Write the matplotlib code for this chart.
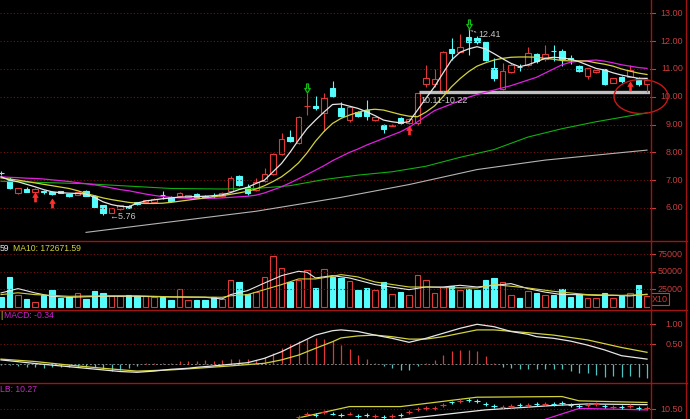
import matplotlib.pyplot as plt
from matplotlib.path import Path
from matplotlib.patches import Ellipse
from matplotlib.lines import Line2D

plt.rcParams['font.family'] = ['Liberation Sans', 'DejaVu Sans']

W, H = 690, 419
RED = '#e03838'
FRAME = '#a01414'
GRID = '#7a1212'
LBL = '#c83c3c'
CYAN = '#54fcfc'
HCYAN = '#4cc4c4'

# daily candles (price)
opens = [7.27, 7.03, 6.52, 6.67, 6.58, 6.62, 6.58, 6.60, 6.49, 6.48,
         6.61, 6.43, 6.10, 5.83, 5.96, 6.08, 6.20, 6.20, 6.22, 6.48,
         6.40, 6.43, 6.40, 6.50, 6.42, 6.44, 6.42, 6.61, 7.16, 6.76,
         6.64, 6.98, 7.22, 7.94, 8.56, 8.32, 9.65, 9.67, 9.40, 10.30,
         9.58, 9.16, 9.44, 9.52, 9.16, 8.98, 8.95, 9.25, 9.05, 9.04,
         10.46, 10.46, 10.22, 11.71, 11.62, 12.16, 12.12, 11.96, 11.02, 10.28,
         10.90, 11.08, 11.14, 11.54, 11.37, 11.66, 11.65, 11.39, 11.10, 10.74,
         10.89, 10.98, 10.50, 10.72, 10.72, 10.66, 10.46]
closes = [7.24, 6.70, 6.70, 6.58, 6.67, 6.56, 6.50, 6.53, 6.43, 6.56,
          6.44, 6.04, 5.83, 5.98, 6.10, 6.01, 6.13, 6.28, 6.32, 6.46,
          6.26, 6.55, 6.45, 6.40, 6.41, 6.43, 6.55, 7.06, 6.82, 6.55,
          6.94, 7.21, 7.94, 8.47, 8.42, 9.28, 9.68, 9.58, 9.96, 10.02,
          9.31, 9.62, 9.31, 9.31, 9.26, 8.83, 9.00, 9.04, 9.20, 10.12,
          10.66, 10.62, 11.62, 11.58, 11.78, 11.98, 11.96, 11.32, 10.66, 10.94,
          11.14, 11.06, 11.56, 11.30, 11.54, 11.64, 11.35, 11.37, 10.94, 11.02,
          10.95, 10.46, 10.66, 10.58, 10.96, 10.46, 10.60]
highs = [7.32, 7.12, 6.72, 6.75, 6.70, 6.64, 6.62, 6.62, 6.51, 6.58,
         6.63, 6.45, 6.12, 6.00, 6.12, 6.10, 6.22, 6.30, 6.34, 6.62,
         6.42, 6.58, 6.48, 6.52, 6.48, 6.52, 6.57, 7.16, 7.18, 6.86,
         7.06, 7.45, 7.96, 8.70, 8.82, 9.30, 10.12, 10.02, 10.12, 10.55,
         9.80, 9.66, 9.50, 9.88, 9.28, 9.02, 9.02, 9.27, 9.22, 10.14,
         11.14, 11.00, 11.64, 12.10, 12.26, 12.41, 12.20, 11.98, 11.40, 11.20,
         11.20, 11.16, 11.78, 11.56, 11.87, 11.87, 11.72, 11.50, 11.14, 11.04,
         10.97, 11.00, 10.68, 10.74, 11.14, 10.70, 10.66]
lows = [7.18, 6.68, 6.50, 6.56, 6.55, 6.50, 6.48, 6.52, 6.41, 6.46,
        6.42, 6.02, 5.76, 5.80, 5.94, 6.00, 6.11, 6.18, 6.20, 6.32,
        6.22, 6.41, 6.38, 6.36, 6.36, 6.36, 6.40, 6.58, 6.79, 6.48,
        6.60, 6.95, 7.20, 7.92, 8.36, 8.30, 9.34, 9.52, 8.78, 10.00,
        9.28, 9.10, 9.28, 9.16, 9.14, 8.70, 8.93, 9.02, 9.03, 8.98,
        10.36, 10.36, 10.18, 11.32, 11.60, 11.50, 11.90, 11.28, 10.55, 10.24,
        10.85, 10.92, 11.10, 11.20, 11.30, 11.30, 11.12, 11.16, 10.90, 10.62,
        10.87, 10.44, 10.48, 10.50, 10.70, 10.40, 10.18]

ma5 = [7.12, 7.00, 6.94, 6.85, 6.76, 6.66, 6.58, 6.55, 6.53, 6.52,
       6.50, 6.38, 6.22, 6.12, 6.06, 6.04, 6.17, 6.25, 6.29, 6.33,
       6.36, 6.39, 6.40, 6.41, 6.42, 6.44, 6.47, 6.55, 6.66, 6.74,
       6.88, 7.00, 7.30, 7.60, 8.00, 8.44, 8.85, 9.16, 9.45, 9.72,
       9.74, 9.66, 9.58, 9.46, 9.32, 9.16, 9.10, 9.06, 9.10, 9.52,
       9.95, 10.36, 10.85, 11.32, 11.60, 11.72, 11.80, 11.72, 11.55, 11.37,
       11.20, 11.08, 11.15, 11.26, 11.38, 11.42, 11.40, 11.35, 11.26, 11.14,
       11.02, 10.96, 10.86, 10.78, 10.72, 10.66, 10.66]
ma10 = [7.08, 7.04, 7.00, 6.95, 6.90, 6.85, 6.80, 6.75, 6.70, 6.62,
        6.52, 6.44, 6.36, 6.30, 6.25, 6.20, 6.17, 6.16, 6.16, 6.17,
        6.20, 6.24, 6.28, 6.32, 6.36, 6.40, 6.44, 6.49, 6.54, 6.60,
        6.68, 6.80, 6.95, 7.12, 7.35, 7.62, 7.98, 8.40, 8.75, 9.04,
        9.22, 9.34, 9.44, 9.52, 9.55, 9.52, 9.44, 9.36, 9.30, 9.28,
        9.45, 9.67, 10.00, 10.36, 10.65, 10.90, 11.10, 11.22, 11.32, 11.38,
        11.42, 11.43, 11.43, 11.42, 11.38, 11.35, 11.30, 11.29, 11.29, 11.28,
        11.22, 11.17, 11.10, 11.00, 10.92, 10.85, 10.80]
ma20 = [7.12, 7.10, 7.09, 7.07, 7.06, 7.04, 7.01, 6.98, 6.95, 6.91,
        6.87, 6.83, 6.78, 6.72, 6.66, 6.62, 6.56, 6.50, 6.45, 6.41,
        6.38, 6.36, 6.35, 6.34, 6.34, 6.35, 6.36, 6.38, 6.40, 6.42,
        6.46, 6.54, 6.65, 6.76, 6.90, 7.05, 7.20, 7.36, 7.52, 7.70,
        7.85, 8.00, 8.12, 8.26, 8.38, 8.50, 8.62, 8.74, 8.90, 9.10,
        9.30, 9.50, 9.62, 9.74, 9.86, 9.98, 10.08, 10.16, 10.24, 10.32,
        10.40, 10.50, 10.60, 10.70, 10.85, 11.00, 11.15, 11.24, 11.28, 11.30,
        11.32, 11.28, 11.22, 11.15, 11.10, 11.05, 11.02]
ma60_idx = [0, 10, 20, 26, 30, 34, 38, 42, 46, 50, 54, 58, 62, 66, 70, 76]
ma60 = [6.96, 6.87, 6.70, 6.68, 6.70, 6.80, 7.02, 7.18, 7.30, 7.50, 7.82, 8.10, 8.55, 8.85, 9.10, 9.42]
ma120_idx = [10, 20, 30, 40, 48, 56, 64, 72, 76]
ma120 = [5.12, 5.50, 5.88, 6.38, 6.84, 7.38, 7.72, 7.96, 8.08]

# volume (axis units, x10)
vol = [13600, 42100, 17400, 11200, 6400, 17400, 23600, 12600, 13600, 19800,
       11200, 22100, 19800, 16000, 16000, 16700, 16000, 15000, 13600, 14000,
       9300, 25500, 9300, 10000, 10000, 13600, 11200, 38800, 35000, 18300,
       21000, 42600, 72100, 55500, 35000, 38800, 52100, 26900, 54500, 42600,
       41200, 36400, 24500, 27400, 23600, 35500, 18800, 21200, 17400, 46000,
       38800, 20200, 28300, 29300, 23600, 26000, 24500, 37900, 41200, 35500,
       17400, 13100, 22000, 19800, 16400, 17400, 25000, 14000, 18800, 13100,
       13100, 19800, 13100, 15500, 20200, 30700, 15500]
vma5_idx = [0, 2, 4, 6, 8, 12, 16, 20, 24, 26, 27, 29, 31, 33, 35, 36, 37, 39,
            41, 44, 46, 48, 50, 52, 54, 56, 58, 60, 62, 64, 66, 68, 70, 72, 74, 76]
vma5 = [19800, 26000, 19800, 15000, 13600, 15000, 15000, 14000, 13600, 11200,
        17400, 23100, 34000, 44500, 50700, 49300, 41200, 44500, 41200, 31700,
        28100, 24500, 28300, 28300, 30700, 28300, 30700, 33100, 26000, 21000,
        17400, 17400, 16400, 16400, 15500, 18000]
vma10_idx = [0, 2, 4, 8, 12, 16, 20, 23, 26, 27, 29, 31, 33, 35, 37, 39, 40, 42,
             44, 48, 50, 52, 56, 58, 62, 65, 69, 73, 76]
vma10 = [17400, 20000, 17400, 15000, 15700, 15700, 14300, 14000, 13600, 15700,
         17400, 24500, 31700, 39800, 39800, 43600, 46000, 42600, 35500, 28300,
         28300, 27400, 26900, 31700, 26900, 22100, 17400, 16400, 17400]

# MACD
dif_idx = [0, 4, 8, 10, 12, 14, 16, 18, 20, 22, 23, 25, 27, 29, 31, 33, 35, 37, 39, 40,
           42, 44, 46, 48, 50, 52, 54, 56, 58, 60, 62, 63, 65, 67, 69, 71, 73, 76]
dif = [0.11, 0.02, -0.06, -0.10, -0.14, -0.18, -0.20, -0.17, -0.125, -0.10,
       -0.075, -0.04, 0.0, 0.04, 0.15, 0.315, 0.525, 0.73, 0.84, 0.86,
       0.82, 0.73, 0.65, 0.55, 0.65, 0.775, 0.90, 1.0, 0.94, 0.82,
       0.75, 0.69, 0.65, 0.58, 0.48, 0.36, 0.215, 0.13]
dea_idx = [0, 4, 8, 12, 16, 20, 23, 27, 31, 33, 35, 37, 39, 40, 42, 44, 46, 48, 50, 52,
           54, 56, 58, 62, 65, 69, 73, 76]
dea = [0.13, 0.07, -0.02, -0.10, -0.17, -0.14, -0.10, -0.04, 0.025, 0.11,
       0.23, 0.40, 0.565, 0.66, 0.71, 0.73, 0.69, 0.63, 0.63, 0.69,
       0.775, 0.86, 0.86, 0.79, 0.73, 0.61, 0.42, 0.30]
macd_hist = [-0.02, -0.03, -0.04, -0.06, -0.08, -0.09, -0.08, -0.08, -0.07, -0.06,
             -0.06, -0.07, -0.12, -0.16, -0.14, -0.10, -0.05, 0.02, 0.02, 0.03,
             0.03, 0.07, 0.08, 0.09, 0.11, 0.09, 0.11, 0.13, 0.13, 0.13,
             0.10, 0.17, 0.275, 0.40, 0.50, 0.58, 0.63, 0.65, 0.63, 0.58,
             0.47, 0.38, 0.23, 0.14, 0.04, -0.04, -0.10, -0.15, -0.15, -0.05,
             0.02, 0.10, 0.23, 0.32, 0.36, 0.36, 0.32, 0.21, 0.03, -0.06,
             -0.10, -0.12, -0.12, -0.11, -0.13, -0.12, -0.13, -0.18, -0.22, -0.23,
             -0.27, -0.32, -0.30, -0.32, -0.30, -0.32, -0.34]

# lower indicator panel
bot_upper_idx = [35, 41, 47, 56, 66, 68, 76]
bot_upper = [9.17, 10.88, 10.88, 12.30, 12.40, 11.75, 11.50]
bot_mid_idx = [47, 57, 65, 69, 76]
bot_mid = [8.95, 10.38, 11.05, 11.28, 11.17]
bot_low_idx = [64, 68, 76]
bot_low = [8.95, 10.60, 10.38]
mark_start = 35
bot_marks = [9.33, 9.83, 9.67, 10.0, 9.83, 9.67, 9.83, 9.5, 9.67, 9.5,
             9.33, 9.5, 9.67, 10.0, 10.5, 10.67, 10.67, 11.17, 11.5, 11.67,
             11.83, 11.67, 11.33, 11.0, 10.83, 11.0, 11.17, 11.17, 11.33, 11.33,
             11.33, 11.42, 11.17, 11.0, 11.17, 11.33, 11.0, 10.83, 10.83, 11.0,
             10.67, 10.67]

price_ticks = [13, 12, 11, 10, 9, 8, 7, 6]
vol_ticks = [75000, 50000, 25000]
macd_ticks = [1.0, 0.5]
bot_ticks = [10.5]

up_arrow_idx = [4, 6, 48, 74]
up_arrow_price = [6.38, 6.17, 8.80, 10.40]
down_arrow_idx = [36, 55]
down_arrow_price = [10.32, 12.60]
low_idx, low_val = 12, 5.76
high_idx, high_val = 55, 12.41
zone_idx, zone_lo, zone_hi = 49.2, 10.11, 10.22

n = len(opens)
xs = list(range(n))
rising = [c >= o for o, c in zip(opens, closes)]

fig = plt.figure(figsize=(W / 100, H / 100), dpi=100, facecolor='black')


def panel(top, bot, ylim):
    ax = fig.add_axes([0, 1 - bot / H, 650 / W, (bot - top) / H])
    ax.set_facecolor('black')
    for s in ax.spines.values():
        s.set_visible(False)
    ax.set_xticks([])
    ax.set_yticks([])
    ax.set_xlim(-0.12, 76.35)
    ax.set_ylim(*ylim)
    return ax


def right_labels(ax, ticks, fmt):
    tr = ax.get_yaxis_transform()
    for v in ticks:
        ax.axhline(v, color=GRID, lw=0.8, ls=(0, (1, 2)))
        ax.plot([1.0, 1.007], [v, v], color=LBL, lw=0.8, transform=tr, clip_on=False)
        ax.text(683 / 650, v, fmt(v), transform=tr, ha='right', va='center',
                color=LBL, fontsize=6.5)


ax1 = panel(0, 241, (4.81, 13.48))
ax2 = panel(241, 310, (-4571, 94000))
ax3 = panel(310, 383, (-0.4675, 1.3575))
ax4 = panel(383, 419, (9.0, 14.45))

# ---- price panel
right_labels(ax1, price_ticks, lambda v: f'{v:.2f}')
ax1.plot(ma120_idx, ma120, color='#b4b4b4', lw=0.8)
ax1.plot(ma60_idx, ma60, color='#10b010', lw=0.8)
ax1.hlines((zone_lo + zone_hi) / 2, zone_idx, 76.35, color='#c0c0c0', lw=2.4)
ax1.text(zone_idx + 0.1, 9.87, f'{zone_lo:.2f}-{zone_hi:.2f}', color='#c8c8c8',
         fontsize=6.5, va='center', ha='left')

for i in xs:
    col = RED if rising[i] else CYAN
    lo, hi = min(opens[i], closes[i]), max(opens[i], closes[i])
    ax1.vlines(i, hi, highs[i], color=col, lw=0.8)
    ax1.vlines(i, lows[i], lo, color=col, lw=0.8)
body = [max(abs(c - o), 0.012) for o, c in zip(opens, closes)]
bottoms = [min(o, c) for o, c in zip(opens, closes)]
ax1.bar(xs, body, bottom=bottoms, width=0.68,
        color=['black' if r else CYAN for r in rising],
        edgecolor=[RED if r else CYAN for r in rising], linewidth=0.8)

ax1.plot(xs, ma20, color='#e020e0', lw=0.9)
ax1.plot(xs, ma10, color='#d2d23c', lw=0.9)
ax1.plot(xs, ma5, color='#e6e6e6', lw=0.9)

up_v = [(-0.22, -1), (0.22, -1), (0.22, 0), (0.6, 0), (0, 1), (-0.6, 0), (-0.22, 0), (-0.22, -1)]
up_path = Path(up_v, [Path.MOVETO] + [Path.LINETO] * 6 + [Path.CLOSEPOLY])
dn_path = Path([(a, -b) for a, b in up_v], [Path.MOVETO] + [Path.LINETO] * 6 + [Path.CLOSEPOLY])
ax1.plot(up_arrow_idx, up_arrow_price, ls='none', marker=up_path, markersize=6.5,
         color='#ff3030', markeredgewidth=0.5)
ax1.plot(down_arrow_idx, down_arrow_price, ls='none', marker=dn_path, markersize=6.5,
         markerfacecolor='none', markeredgecolor='#10c010', markeredgewidth=0.9)

ax1.text(low_idx + 0.7, low_val - 0.08, f'\u2190{low_val:.2f}', color='#c8c8c8',
         fontsize=6.5, va='center', ha='left')
ax1.plot([high_idx, high_idx + 1.0], [high_val, high_val - 0.1], color='#c8c8c8',
         lw=0.7, ls=(0, (2, 1)))
ax1.text(high_idx + 1.2, high_val - 0.16, f'{high_val:.2f}', color='#c8c8c8',
         fontsize=6.5, va='center', ha='left')

# ---- volume panel
right_labels(ax2, vol_ticks, lambda v: f'{v:.0f}')
ax2.bar(xs, vol, width=0.68, color=['black' if r else CYAN for r in rising],
        edgecolor=[RED if r else CYAN for r in rising], linewidth=0.8)
ax2.plot(vma5_idx, vma5, color='#e6e6e6', lw=0.8)
ax2.plot(vma10_idx, vma10, color='#d2d23c', lw=0.8)
ax2.text(652 / 650, 10700, 'X10', transform=ax2.get_yaxis_transform(), color=LBL,
         fontsize=6.5, va='center', ha='left',
         bbox=dict(boxstyle='square,pad=0.15', fc='black', ec=LBL, lw=0.8))

# ---- MACD panel
right_labels(ax3, macd_ticks, lambda v: f'{v:.2f}')
ax3.axhline(0, color='#808080', lw=0.7, ls=(0, (2, 2)))
ax3.vlines(xs, 0, macd_hist, colors=[RED if v > 0 else HCYAN for v in macd_hist], lw=0.9)
ax3.plot(dea_idx, dea, color='#d2d23c', lw=0.9)
ax3.plot(dif_idx, dif, color='#e6e6e6', lw=0.9)

# ---- lower indicator panel
right_labels(ax4, bot_ticks, lambda v: f'{v:.2f}')
ax4.plot(bot_upper_idx, bot_upper, color='#d2d23c', lw=0.9)
ax4.plot(bot_mid_idx, bot_mid, color='#e6e6e6', lw=0.9)
ax4.plot(bot_low_idx, bot_low, color='#e020e0', lw=0.9)
for k, v in enumerate(bot_marks):
    i = mark_start + k
    col = RED if rising[i] else CYAN
    ax4.hlines(v, i - 0.35, i + 0.35, color=col, lw=0.8)
    ax4.vlines(i, v - 0.3, v + 0.3, color=col, lw=0.8)

# ---- frame lines and panel titles
def fline(x0, y0, x1, y1):
    fig.add_artist(Line2D([x0 / W, x1 / W], [1 - y0 / H, 1 - y1 / H], color=FRAME, lw=1.0))


for y in (241, 310, 383):
    fline(0, y, 687, y)
fline(650.5, 0, 650.5, 419)
fline(686, 0, 686, 419)

fig.add_artist(Ellipse((641 / W, 1 - 96.5 / H), 54 / W, 34 / H, fill=False,
                       edgecolor='#c81818', lw=1.0))

fig.text(0 / W, 1 - 248 / H, '59', color='#e6e6e6', fontsize=6.2, va='center')
fig.text(13 / W, 1 - 248 / H, 'MA10: 172671.59', color='#d2d23c', fontsize=6.2, va='center')
fig.text(0 / W, 1 - 315 / H, '|', color='#d2d23c', fontsize=6.2, va='center')
fig.text(4 / W, 1 - 315 / H, 'MACD: -0.34', color='#d020d0', fontsize=6.2, va='center')
fig.text(0 / W, 1 - 389 / H, 'LB: 10.27', color='#c030c0', fontsize=6.2, va='center')

fig.savefig('out.png', dpi=100, facecolor='black')
